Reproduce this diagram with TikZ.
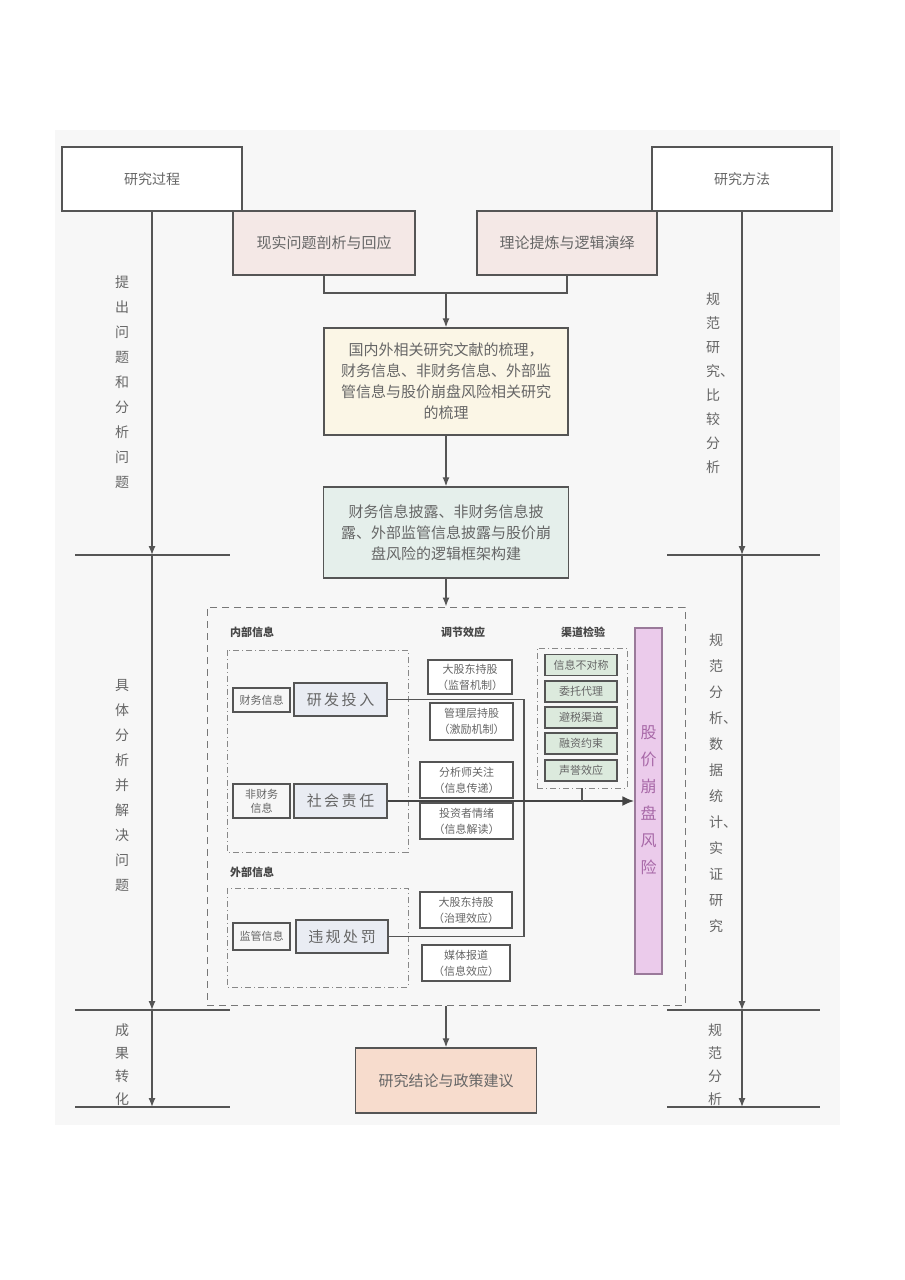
\documentclass[tikz,border=0pt]{standalone}
\usepackage{fontspec}
\setmainfont{Noto Sans CJK SC}
\usetikzlibrary{arrows.meta,positioning}
\definecolor{ln}{HTML}{555555}
\definecolor{tx}{HTML}{666666}
\definecolor{pinkf}{HTML}{F4E8E6}
\definecolor{yelf}{HTML}{FBF6E6}
\definecolor{grnf}{HTML}{E5EFEB}
\definecolor{bluef}{HTML}{E9ECF3}
\definecolor{chf}{HTML}{DCEADD}
\definecolor{riskf}{HTML}{EBCBEB}
\definecolor{riskd}{HTML}{9A7A9A}
\definecolor{riskt}{HTML}{A768A7}
\definecolor{salf}{HTML}{F7DCCD}
\definecolor{bg}{HTML}{F7F7F7}
\tikzset{
  box/.style={draw=ln, line width=1.4pt, text=tx, align=center, inner sep=1pt},
  bigtxt/.style={font=\fontsize{15}{21}\selectfont},
  smalltxt/.style={font=\fontsize{11}{14}\selectfont},
  modbox/.style={box, line width=1.2pt, fill=white, font=\fontsize{11}{16}\selectfont},
  chbox/.style={box, line width=1.2pt, fill=chf, minimum width=72pt, minimum height=21pt, font=\fontsize{11}{13}\selectfont},
  arr/.style={draw=ln, line width=1.3pt, -{Latex[length=9pt,width=7pt]}, color=ln},
  conn/.style={draw=ln, line width=1.3pt},
  vlab/.style={text=tx, align=center, font=\fontsize{14}{25}\selectfont},
  hdr/.style={text=tx!70!black, font=\bfseries\fontsize{11}{13}\selectfont},
}
\begin{document}
\begin{tikzpicture}[x=1pt,y=-1pt]
\useasboundingbox (0,0) rectangle (905,1280);
\fill[bg] (55,130) rectangle (840,1125);

% top boxes
\node[box, bigtxt, minimum width=180pt, minimum height=64pt, fill=white, font=\fontsize{14}{18}\selectfont] (proc) at (152,179) {研究过程};
\node[box, bigtxt, minimum width=180pt, minimum height=64pt, fill=white, font=\fontsize{14}{18}\selectfont] (meth) at (742,179) {研究方法};
\node[box, bigtxt, minimum width=182pt, minimum height=64pt, fill=pinkf] (real) at (324,243) {现实问题剖析与回应};
\node[box, bigtxt, minimum width=180pt, minimum height=64pt, fill=pinkf] (theo) at (567,243) {理论提炼与逻辑演绎};

\node[box, bigtxt, minimum width=244pt, minimum height=107pt, fill=yelf] (lit) at (446,381.5)
  {国内外相关研究文献的梳理，\\财务信息、非财务信息、外部监\\管信息与股价崩盘风险相关研究\\的梳理};
\node[box, bigtxt, minimum width=245pt, minimum height=91pt, fill=grnf] (frame) at (446,532.5)
  {财务信息披露、非财务信息披\\露、外部监管信息披露与股价崩\\盘风险的逻辑框架构建};

\coordinate (mj) at (446,293);
\draw[conn] (real.south) |- (mj) -| (theo.south);
\draw[arr] (mj) -- (lit.north);
\draw[arr] (lit.south) -- (frame.north);

% big dashed frame
\node[draw=ln!80, line width=1pt, dash pattern=on 7pt off 5pt, minimum width=478pt, minimum height=398pt, inner sep=0pt] (big) at (446,806) {};
\draw[arr] (frame.south) -- (big.north);

% inner dash-dot boxes
\draw[ln!70, line width=0.9pt, dash pattern=on 6pt off 3pt on 1pt off 3pt] (227,650) rectangle (408,852);
\draw[ln!70, line width=0.9pt, dash pattern=on 6pt off 3pt on 1pt off 3pt] (227,888) rectangle (408,987);
\node[draw=ln!70, line width=0.9pt, dash pattern=on 6pt off 3pt on 1pt off 3pt, minimum width=90pt, minimum height=140pt, inner sep=0pt] (chan) at (582,718) {};

% headers
\node[hdr] (h1) at (252,632) {内部信息};
\node[hdr] (h2) at (463,632) {调节效应};
\node[hdr] (h3) at (583,632) {渠道检验};
\node[hdr] (h4) at (252,872) {外部信息};

% left inner boxes
\node[box, smalltxt, line width=1.2pt, fill=bg, minimum width=57pt, minimum height=24pt] (fin) at (261.5,700) {财务信息};
\node[box, line width=1.2pt, fill=bluef, minimum width=93pt, minimum height=33pt, font=\fontsize{15}{18}\selectfont] (rd) at (340.5,699.5) {研\,发\,投\,入};
\node[box, smalltxt, line width=1.2pt, fill=bg, minimum width=57pt, minimum height=34pt] (nonfin) at (261.5,801) {非财务\\信息};
\node[box, line width=1.2pt, fill=bluef, minimum width=93pt, minimum height=34pt, font=\fontsize{15}{18}\selectfont] (soc) at (340.5,801) {社\,会\,责\,任};
\node[box, smalltxt, line width=1.2pt, fill=bg, minimum width=57pt, minimum height=27pt] (reg) at (261.5,936.5) {监管信息};
\node[box, line width=1.2pt, fill=bluef, minimum width=92pt, minimum height=33pt, font=\fontsize{15}{18}\selectfont] (vio) at (342,936.5) {违\,规\,处\,罚};

% moderators
\node[modbox, minimum width=84pt, minimum height=34pt] (m1) at (470,677) {大股东持股\\（监督机制）};
\node[modbox, minimum width=83pt, minimum height=37pt] (m2) at (471.5,721.5) {管理层持股\\（激励机制）};
\node[modbox, minimum width=93pt, minimum height=36pt] (m3) at (466.5,780) {分析师关注\\（信息传递）};
\node[modbox, minimum width=93pt, minimum height=36pt] (m4) at (466.5,821) {投资者情绪\\（信息解读）};
\node[modbox, minimum width=92pt, minimum height=36pt] (m5) at (466,910) {大股东持股\\（治理效应）};
\node[modbox, minimum width=88pt, minimum height=36pt] (m6) at (466,963) {媒体报道\\（信息效应）};

% channels
\node[chbox] (c1) at (581,665) {信息不对称};
\node[chbox] (c2) at (581,691.5) {委托代理};
\node[chbox] (c3) at (581,717.5) {避税渠道};
\node[chbox] (c4) at (581,743.5) {融资约束};
\node[chbox] (c5) at (581,770.5) {声誉效应};

% risk bar
\node[draw=riskd, line width=1.4pt, fill=riskf, minimum width=27pt, minimum height=346pt, inner sep=0pt] (risk) at (648.5,801) {};
\node[text=riskt, align=center, font=\fontsize{16}{27}\selectfont] (riskl) at (648.5,800) {股\\价\\崩\\盘\\风\\险};

% connectors in the middle
\coordinate (vtop) at (524,699.5);
\coordinate (vbot) at (524,936.5);
\draw[conn] (rd.east) -- (vtop) -- (vbot);
\draw[conn] (vio.east) -- (vbot);
\draw[draw=ln, line width=2.2pt, -{Latex[length=12pt,width=10pt]}, color=ln!80!black] (soc.east) -- (risk.west);
\draw[conn] (chan.south) -- (chan.south |- soc.east);

% conclusion
\node[box, bigtxt, minimum width=181pt, minimum height=65pt, fill=salf] (concl) at (446,1080.5) {研究结论与政策建议};
\draw[arr] (big.south) -- (concl.north);

% left axis
\coordinate (L1) at (152,555);
\coordinate (L2) at (152,1010);
\coordinate (L3) at (152,1107);
\foreach \c in {L1,L2,L3} { \draw[conn] ([xshift=-77pt]\c) -- ([xshift=78pt]\c); }
\draw[arr] (proc.south) -- (L1);
\draw[arr] (L1) -- (L2);
\draw[arr] (L2) -- (L3);

% right axis
\coordinate (R1) at (742,555);
\coordinate (R2) at (742,1010);
\coordinate (R3) at (742,1107);
\foreach \c in {R1,R2,R3} { \draw[conn] ([xshift=-75pt]\c) -- ([xshift=78pt]\c); }
\draw[arr] (meth.south) -- (R1);
\draw[arr] (R1) -- (R2);
\draw[arr] (R2) -- (R3);

% side labels
\node[vlab] (ll1) at (122,382) {提\\出\\问\\题\\和\\分\\析\\问\\题};
\node[vlab] (ll2) at (122,785) {具\\体\\分\\析\\并\\解\\决\\问\\题};
\node[vlab, font=\fontsize{14}{23}\selectfont] (ll3) at (122,1065) {成\\果\\转\\化};
\node[vlab, font=\fontsize{14}{24}\selectfont] (rl1) at (713,383) {规\\范\\研\\究\rlap{、}\\比\\较\\分\\析};
\node[vlab, font=\fontsize{14}{26}\selectfont] (rl2) at (716,783) {规\\范\\分\\析\rlap{、}\\数\\据\\统\\计\rlap{、}\\实\\证\\研\\究};
\node[vlab, font=\fontsize{14}{23}\selectfont] (rl3) at (715,1065) {规\\范\\分\\析};
\end{tikzpicture}
\end{document}
